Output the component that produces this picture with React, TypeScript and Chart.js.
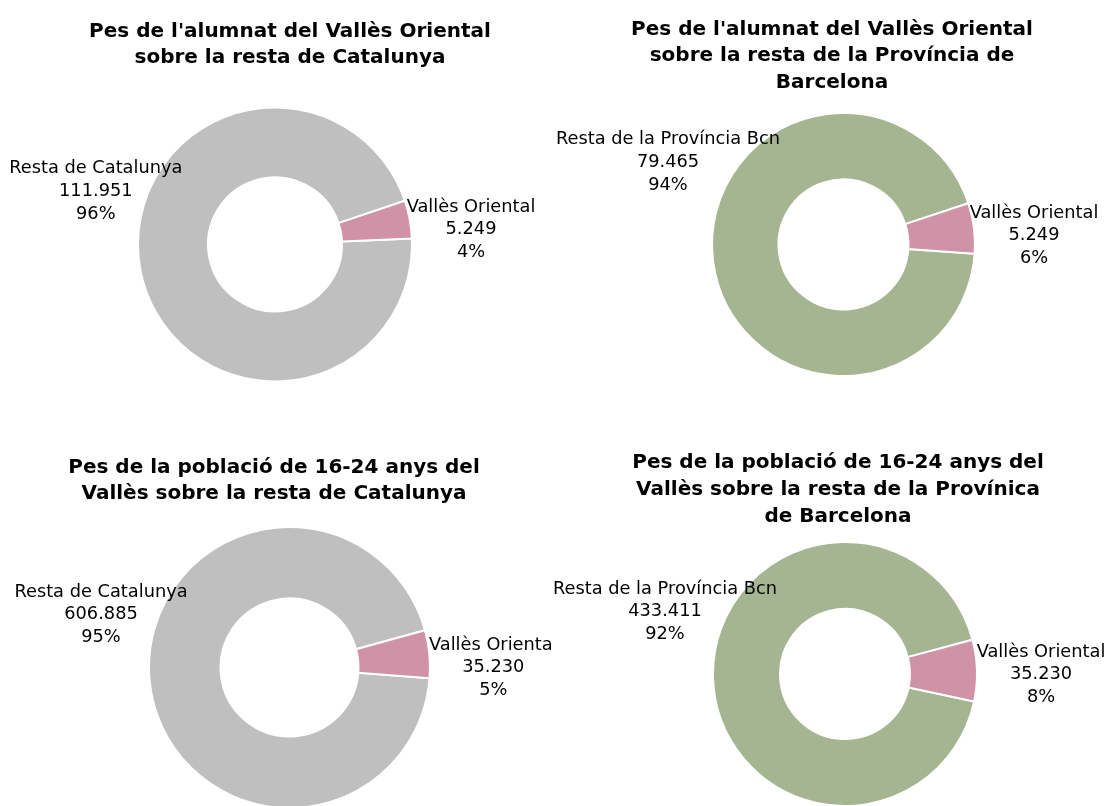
import React, { useEffect, useRef } from "react";
import { Chart, registerables } from "chart.js";

Chart.register(...registerables);

// ---- Data ----
const categoriesCatalunya = ["Resta de Catalunya", "Vallès Oriental"];
const categoriesProvincia = ["Resta de la Província Bcn", "Vallès Oriental"];

const alumnatCatalunya = [111951, 5249];
const alumnatProvincia = [79465, 5249];
const poblacioCatalunya = [606885, 35230];
const poblacioProvincia = [433411, 35230];

const titleAlumnatCatalunya = ["Pes de l'alumnat del Vallès Oriental", "sobre la resta de Catalunya"];
const titleAlumnatProvincia = ["Pes de l'alumnat del Vallès Oriental", "sobre la resta de la Província de", "Barcelona"];
const titlePoblacioCatalunya = ["Pes de la població de 16-24 anys del", "Vallès sobre la resta de Catalunya"];
const titlePoblacioProvincia = ["Pes de la població de 16-24 anys del", "Vallès sobre la resta de la Provínica", "de Barcelona"];

// ---- Styles ----
const GREY = "#BFBFBF";
const PINK = "#D092A7";
const GREEN = "#A5B592";
const TITLE_FONT = 'bold 20px "DejaVu Sans", sans-serif';
const LABEL_FONT = '17.8px "DejaVu Sans", sans-serif';
const W = 554;
const H = 403;

type Panel = {
  left: number; top: number;
  cx: number; cy: number; R: number; r: number; rotation: number;
  titleX: number; titleY: number;
  offsets: number[][];
  labels: string[]; values: number[]; title: string[]; colors: string[];
};

const panels: Panel[] = [
  { left: 0, top: 0, cx: 275, cy: 244.5, R: 136, r: 68, rotation: 87.5, titleX: 290, titleY: 36.7,
    offsets: [[-179.2, -48.5], [196, -10.2]], labels: categoriesCatalunya, values: alumnatCatalunya,
    title: titleAlumnatCatalunya, colors: [GREY, PINK] },
  { left: 554, top: 0, cx: 289.5, cy: 244.5, R: 130.5, r: 66, rotation: 94, titleX: 278, titleY: 34.7,
    offsets: [[-175.5, -77.7], [190.5, -4.2]], labels: categoriesProvincia, values: alumnatProvincia,
    title: titleAlumnatProvincia, colors: [GREEN, PINK] },
  { left: 0, top: 403, cx: 289.5, cy: 264.5, R: 139.5, r: 70, rotation: 94.4, titleX: 274, titleY: 69.5,
    offsets: [[-188.5, -48.2], [203.8, 4.8]], labels: categoriesCatalunya, values: poblacioCatalunya,
    title: titlePoblacioCatalunya, colors: [GREY, PINK] },
  { left: 554, top: 403, cx: 291, cy: 271, R: 131, r: 66, rotation: 102, titleX: 284, titleY: 65.3,
    offsets: [[-180, -57.7], [196, 5.3]], labels: categoriesProvincia, values: poblacioProvincia,
    title: titlePoblacioProvincia, colors: [GREEN, PINK] },
];

function fmt(n: number): string {
  return String(n).replace(/\B(?=(\d{3})+(?!\d))/g, ".");
}

function DoughnutPanel({ p }: { p: Panel }) {
  const ref = useRef<HTMLCanvasElement | null>(null);
  useEffect(() => {
    if (!ref.current) return;
    const total = p.values.reduce((a, b) => a + b, 0);
    const annot = {
      id: "annot",
      afterDraw(chart: any) {
        const ctx = chart.ctx;
        ctx.save();
        ctx.fillStyle = "#000";
        ctx.textAlign = "center";
        ctx.textBaseline = "alphabetic";
        ctx.font = TITLE_FONT;
        p.title.forEach((line, i) => ctx.fillText(line, p.titleX, p.titleY + i * 26.7));
        ctx.font = LABEL_FONT;
        const meta = chart.getDatasetMeta(0);
        meta.data.forEach((arc: any, i: number) => {
          const { x, y } = arc.getProps(["x", "y"], true);
          const [dx, dy] = p.offsets[i];
          const lines = [p.labels[i], fmt(p.values[i]), Math.round((p.values[i] / total) * 100) + "%"];
          lines.forEach((t, j) => ctx.fillText(t, x + dx, y + dy + (j - 1) * 22.8));
        });
        ctx.restore();
      },
    };
    const outer = p.R + 1;
    const inner = p.r - 1;
    const chart = new Chart(ref.current, {
      type: "doughnut",
      data: {
        labels: p.labels,
        datasets: [
          {
            data: p.values,
            backgroundColor: p.colors,
            borderColor: "#ffffff",
            borderWidth: 2,
            clip: false,
          } as any,
        ],
      },
      options: {
        responsive: false,
        animation: false,
        events: [],
        radius: outer,
        cutout: `${(inner / outer) * 100}%`,
        rotation: p.rotation,
        layout: {
          padding: { left: p.cx - 50, right: W - p.cx - 50, top: p.cy - 50, bottom: H - p.cy - 50 },
        },
        plugins: {
          legend: { display: false },
          tooltip: { enabled: false },
          title: { display: false },
        },
      } as any,
      plugins: [annot],
    });
    return () => chart.destroy();
  }, [p]);
  return (
    <canvas
      ref={ref}
      width={W}
      height={H}
      style={{ position: "absolute", left: p.left, top: p.top, width: W, height: H }}
    />
  );
}

export default function App() {
  return (
    <div style={{ position: "absolute", left: 0, top: 0, width: 1108, height: 806, background: "#fff", overflow: "hidden" }}>
      {panels.map((p, i) => (
        <DoughnutPanel key={i} p={p} />
      ))}
    </div>
  );
}
